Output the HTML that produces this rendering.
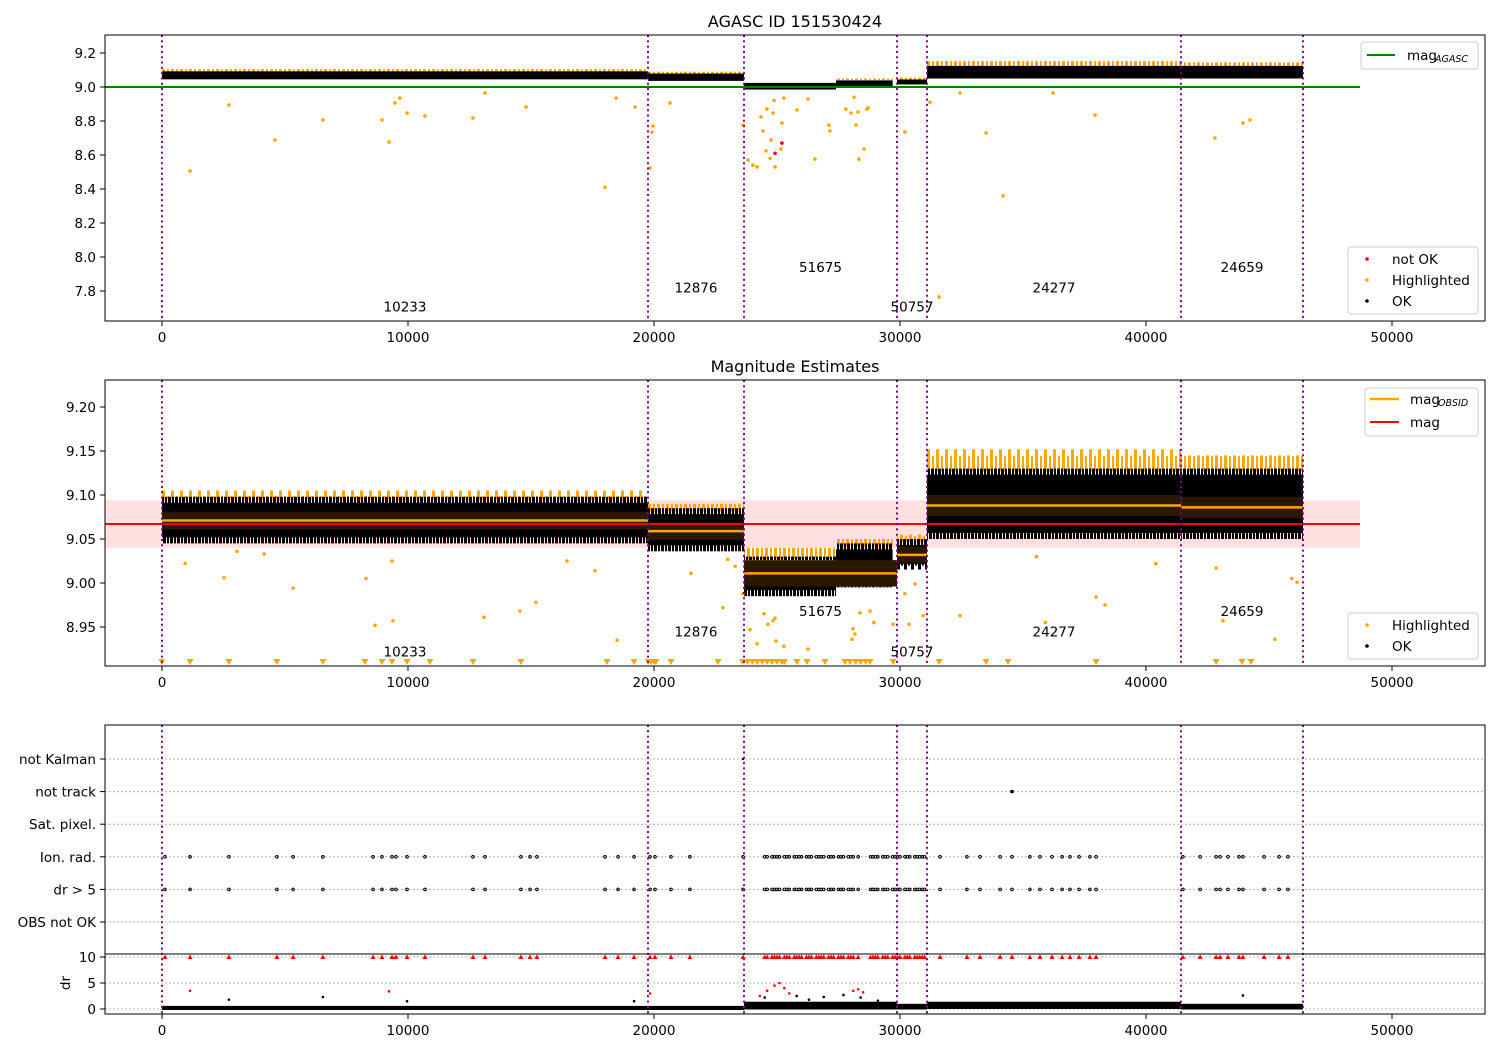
<!DOCTYPE html>
<html><head><meta charset="utf-8"><title>AGASC ID 151530424</title>
<style>
html,body{margin:0;padding:0;background:#fff;}
svg{display:block;font-family:"DejaVu Sans","Liberation Sans",sans-serif;}
</style></head>
<body>
<svg id="fig" width="1500" height="1050" viewBox="0 0 1500 1050" xmlns="http://www.w3.org/2000/svg">
<defs>
<clipPath id="c1"><rect x="105" y="35" width="1380" height="286"/></clipPath>
<clipPath id="c2"><rect x="105" y="380" width="1380" height="286"/></clipPath>
<clipPath id="c4"><rect x="105" y="954" width="1380" height="60"/></clipPath>
<pattern id="hlpat" x="0" y="0" width="9" height="40" patternUnits="userSpaceOnUse">
<rect x="0" y="8" width="3" height="32" fill="orange"/>
<rect x="5" y="16" width="2" height="24" fill="orange"/>
</pattern>
<pattern id="edgepat" x="0" y="0" width="7" height="40" patternUnits="userSpaceOnUse">
<rect x="0" y="2" width="3" height="38" fill="#000"/>
<rect x="4" y="6" width="2" height="34" fill="#000"/>
</pattern>
</defs>
<rect x="0" y="0" width="1500" height="1050" fill="#fff"/>
<g id="p1" clip-path="url(#c1)"></g>
<g id="p2" clip-path="url(#c2)"></g>
<g id="p3"></g>
<g id="p4" clip-path="url(#c4)"></g>
<g id="ax"></g>
</svg>
<script>
// ---- data (x in thousands of time units) ----
const obsids = ["10233","12876","51675","50757","24277","24659"];
const segStart = [0, 19.756, 23.659, 29.878, 31.098, 41.423];
const segEnd = [19.756, 23.659, 29.878, 31.098, 41.423, 46.382];
const segMean = [9.071, 9.059, 9.011, 9.032, 9.088, 9.086];
const segSd = [0.010, 0.010, 0.015, 0.009, 0.012, 0.012];
const labelMag1 = [7.71, 7.82, 7.94, 7.71, 7.82, 7.94];
const labelMag2 = [8.922, 8.945, 8.968, 8.922, 8.945, 8.968];
const cloudStart = [0, 19.756, 23.659, 27.4, 29.878, 31.098, 41.423];
const cloudEnd = [19.756, 23.659, 27.4, 29.7, 31.098, 41.423, 46.382];
const cloudLo = [9.045, 9.036, 8.985, 8.995, 9.015, 9.050, 9.050];
const cloudHi = [9.098, 9.085, 9.030, 9.045, 9.050, 9.130, 9.130];
const cloudHl = [9.105, 9.090, 9.040, 9.050, 9.055, 9.152, 9.145];
const agascMag = 9.0;
const meanMag = 9.067;
const magLo = 9.040, magHi = 9.094;
const hl1X = [1.14,2.72,4.59,6.54,8.94,9.23,9.47,9.67,9.96,10.69,12.64,13.13,14.80,18.01,18.46,19.23,19.84,19.92,19.96,20.65,23.62,23.82,24.02,24.19,24.35,24.43,24.55,24.59,24.72,24.76,24.84,24.88,24.92,25.16,25.20,25.28,25.81,26.26,26.54,27.11,27.15,27.80,28.01,28.13,28.21,28.29,28.33,28.54,28.66,28.70,30.20,31.22,31.59,32.44,33.50,34.19,36.22,37.93,42.80,43.94,44.23];
const hl1M = [8.506,8.894,8.688,8.806,8.806,8.676,8.906,8.935,8.847,8.829,8.818,8.965,8.882,8.41,8.935,8.882,8.523,8.735,8.77,8.906,8.776,8.57,8.54,8.53,8.824,8.741,8.624,8.87,8.58,8.688,8.847,8.92,8.53,8.635,8.788,8.935,8.865,8.93,8.576,8.776,8.741,8.87,8.847,8.94,8.776,8.853,8.576,8.635,8.87,8.876,8.735,8.91,7.765,8.965,8.73,8.36,8.965,8.835,8.70,8.788,8.806];
const red1X = [25.20, 24.92];
const red1M = [8.67, 8.61];
const hl2X = [0.94,2.52,3.05,4.15,5.33,8.29,8.66,9.35,9.39,13.09,14.55,15.20,16.46,17.60,18.50,21.50,22.80,23.00,23.30,23.62,23.90,24.19,24.47,24.84,24.63,24.92,24.96,25.28,26.26,28.05,28.09,28.17,28.37,28.78,28.94,29.72,30.20,30.37,30.61,30.94,32.44,35.91,35.55,37.97,38.33,40.40,42.85,43.13,45.24,45.93,46.14];
const hl2M = [9.022,9.006,9.036,9.033,8.994,9.005,8.952,9.025,8.957,8.961,8.968,8.978,9.025,9.014,8.935,9.011,8.972,9.027,9.019,8.988,8.947,8.931,8.965,8.957,8.953,8.96,8.934,8.928,8.925,8.936,8.948,8.942,8.966,8.968,8.955,8.953,8.988,8.953,8.999,8.963,8.963,8.955,9.030,8.984,8.975,9.022,9.017,8.957,8.936,9.005,9.001];
const low2X = [0,1.14,2.72,4.67,6.54,8.25,8.94,9.35,9.96,10.89,12.64,14.59,18.09,19.19,19.76,19.88,20.0,20.08,20.69,22.6,23.6,23.8,24.0,24.2,24.4,24.6,24.8,25.0,25.2,25.3,25.81,26.22,26.95,27.76,27.97,28.2,28.4,28.6,28.78,29.72,31.59,33.5,34.39,37.97,42.85,43.9,44.27];
const flagCats = ["not Kalman","not track","Sat. pixel.","Ion. rad.","dr > 5","OBS not OK"];
const flagX = [0.12,1.14,2.72,4.67,5.33,6.54,8.58,8.94,9.35,9.51,9.96,10.69,12.64,13.13,14.59,14.96,15.24,18.01,18.54,19.19,19.84,20.04,20.69,21.46,23.62,24.5,24.6,24.8,24.9,25.0,25.1,25.3,25.4,25.5,25.7,25.8,25.9,26.0,26.2,26.3,26.4,26.6,26.7,26.8,26.9,27.1,27.2,27.3,27.5,27.6,27.7,27.9,28.0,28.1,28.3,28.8,28.9,29.0,29.1,29.3,29.4,29.5,29.7,29.8,29.9,30.0,30.2,30.3,30.4,30.6,30.7,30.8,30.9,31.0,31.63,32.72,33.25,34.07,34.55,35.28,35.69,36.18,36.59,36.91,37.28,37.72,37.97,41.50,42.20,42.85,43.01,43.33,43.78,43.94,44.80,45.41,45.77];
const kalmanX = [23.62];
const trackX = [34.55];
const drBandLo = [0.0, 0.0, 0.1, 0.1, 0.2, 0.1];
const drBandHi = [0.6, 0.6, 1.4, 1.0, 1.4, 1.0];
const drRedX = [1.14,9.23,19.84,24.3,24.6,24.9,25.1,25.3,25.5,28.1,28.3,28.5];
const drRed = [3.5,3.4,3.0,2.5,3.5,4.5,5.0,4.0,3.0,3.5,3.8,3.2];
const drBlackX = [2.72,6.54,9.96,19.19,23.9,24.5,25.8,26.3,26.9,27.7,28.4,29.1,43.94];
const drBlack = [1.8,2.3,1.5,1.5,1.0,2.2,2.5,1.8,2.3,2.7,2.2,1.6,2.6];
const xTicks = [0,10000,20000,30000,40000,50000];
const y1Ticks = [9.2,9.0,8.8,8.6,8.4,8.2,8.0,7.8];
const y2Ticks = [9.20,9.15,9.10,9.05,9.00,8.95];
const y4Ticks = [0,5,10];
const vlines = [0,19.756,23.659,29.878,31.098,41.423,46.382];

// ---- scales ----
const X = k => 162 + k*24.6;
const Y1 = m => 87 - (m-9.0)*170;
const Y2 = m => 583 - (m-9.0)*880;
const Y3 = i => 759 + i*32.6;
const Y4 = d => 1009 - d*5.2;
const NS = "http://www.w3.org/2000/svg";
function mk(parent, tag, attrs, text){
  const e = document.createElementNS(NS, tag);
  for (const k in attrs) e.setAttribute(k, attrs[k]);
  if (text !== undefined) e.textContent = text;
  parent.appendChild(e);
  return e;
}
const p1 = document.getElementById('p1'), p2 = document.getElementById('p2'),
      p3 = document.getElementById('p3'), p4 = document.getElementById('p4'),
      ax = document.getElementById('ax');

// ---- panel 1 ----
for (let i=0;i<cloudStart.length;i++){
  const w = X(cloudEnd[i])-X(cloudStart[i]);
  let e = mk(p1,'rect',{x:X(cloudStart[i]),y:Y1(cloudHl[i]),width:w,height:Y1(cloudHi[i])-Y1(cloudHl[i])+2,fill:'url(#hlpat)'});
  
  
  e = mk(p1,'rect',{x:X(cloudStart[i]),y:Y1(cloudHi[i])+1,width:w,height:Y1(cloudLo[i])-Y1(cloudHi[i])-1,fill:'#000'});
  
  
}
for (let i=0;i<hl1X.length;i++){
  const e = mk(p1,'circle',{cx:X(hl1X[i]),cy:Y1(hl1M[i]),r:1.8,fill:'orange'});
  
  
}
for (let i=0;i<red1X.length;i++){
  const e = mk(p1,'circle',{cx:X(red1X[i]),cy:Y1(red1M[i]),r:1.8,fill:'red'});
  
  
}
{
  const e = mk(p1,'line',{x1:X(-2.317),x2:X(48.7),y1:Y1(agascMag),y2:Y1(agascMag),stroke:'green','stroke-width':2});
  
  
}
// ---- panel 2 ----
{
  const e = mk(p2,'rect',{x:X(-2.317),y:Y2(magHi),width:X(48.7)-X(-2.317),height:Y2(magLo)-Y2(magHi),fill:'red','fill-opacity':0.12});
  
  
}
for (let i=0;i<cloudStart.length;i++){
  const w = X(cloudEnd[i])-X(cloudStart[i]);
  const top = Y2(cloudHi[i]), bot = Y2(cloudLo[i]);
  let e = mk(p2,'rect',{x:X(cloudStart[i]),y:Y2(cloudHl[i]),width:w,height:top-Y2(cloudHl[i])+3,fill:'url(#hlpat)'});
  
  
  e = mk(p2,'rect',{x:X(cloudStart[i]),y:top+6,width:w,height:bot-top-12,fill:'#000'});
  
  
  e = mk(p2,'rect',{x:X(cloudStart[i]),y:top,width:w,height:8,fill:'url(#edgepat)'});
  
  
  e = mk(p2,'rect',{x:X(cloudStart[i]),y:bot-8,width:w,height:8,fill:'url(#edgepat)',transform:`rotate(180 ${X(cloudStart[i])+w/2} ${bot-4})`});
  
  
}
for (let i=0;i<segStart.length;i++){
  let e = mk(p2,'rect',{x:X(segStart[i]),y:Y2(segMean[i]+segSd[i]),width:X(segEnd[i])-X(segStart[i]),height:Y2(segMean[i]-segSd[i])-Y2(segMean[i]+segSd[i]),fill:'#2b1800'});
  
  
}
{
  const e = mk(p2,'line',{x1:X(-2.317),x2:X(48.7),y1:Y2(meanMag),y2:Y2(meanMag),stroke:'red','stroke-width':2});
  
  
}
for (let i=0;i<segStart.length;i++){
  const e = mk(p2,'line',{x1:X(segStart[i]),x2:X(segEnd[i]),y1:Y2(segMean[i]),y2:Y2(segMean[i]),stroke:'orange','stroke-width':2.5});
  
  
}
for (let i=0;i<hl2X.length;i++){
  const e = mk(p2,'circle',{cx:X(hl2X[i]),cy:Y2(hl2M[i]),r:1.8,fill:'orange'});
  
  
}
for (let i=0;i<low2X.length;i++){
  const x = X(low2X[i]);
  const e = mk(p2,'path',{d:`M${x-3.5},659 L${x+3.5},659 L${x},665 Z`,fill:'orange'});
  
  
}
// ---- panel 3 flags ----
for (let i=0;i<flagCats.length;i++){
  const e = mk(p3,'line',{x1:105,x2:1485,y1:Y3(i),y2:Y3(i),stroke:'#b0b0b0','stroke-width':1,'stroke-dasharray':'2,2'});
  
  
  const t = mk(ax,'text',{x:96,y:Y3(i)+5,'text-anchor':'end','font-size':13.5},flagCats[i]);
  
  
}
for (const row of [3,4]){
  for (let i=0;i<flagX.length;i++){
    const e = mk(p3,'circle',{cx:X(flagX[i]),cy:Y3(row),r:1.3,fill:'none',stroke:'#000','stroke-width':1});
    
    
  }
}
for (let i=0;i<kalmanX.length;i++){
  const e = mk(p3,'circle',{cx:X(kalmanX[i]),cy:Y3(0),r:1.2,fill:'#000'});
  
  
}
for (let i=0;i<trackX.length;i++){
  const e = mk(p3,'circle',{cx:X(trackX[i]),cy:Y3(1),r:1.8,fill:'#000'});
  
  
}
// ---- panel 4 dr ----
for (const d of [10,5,0]){
  const e = mk(p4,'line',{x1:105,x2:1485,y1:Y4(d),y2:Y4(d),stroke:'#b0b0b0','stroke-width':1,'stroke-dasharray':'2,2'});
  
  
}
for (let i=0;i<segStart.length;i++){
  const e = mk(p4,'rect',{x:X(segStart[i]),y:Y4(drBandHi[i]),width:X(segEnd[i])-X(segStart[i]),height:Y4(drBandLo[i])-Y4(drBandHi[i])+1,fill:'#000'});
  
  
}
for (let i=0;i<drBlackX.length;i++){
  const e = mk(p4,'circle',{cx:X(drBlackX[i]),cy:Y4(drBlack[i]),r:1.3,fill:'#000'});
  
  
}
for (let i=0;i<drRedX.length;i++){
  const e = mk(p4,'circle',{cx:X(drRedX[i]),cy:Y4(drRed[i]),r:1.3,fill:'red'});
  
  
}
for (let i=0;i<flagX.length;i++){
  const x = X(flagX[i]), y = Y4(10);
  const e = mk(p4,'path',{d:`M${x-2.5},${y+2} L${x+2.5},${y+2} L${x},${y-2.5} Z`,fill:'red'});
  
  
}
// ---- obsid vertical lines & labels ----
for (const [top,bot] of [[35,321],[380,666],[725,1014]]){
  for (let i=0;i<vlines.length;i++){
    const e = mk(ax,'line',{x1:X(vlines[i]),x2:X(vlines[i]),y1:top,y2:bot,stroke:'purple','stroke-width':2,'stroke-dasharray':'2,3.3'});
    
    
  }
}
for (let i=0;i<obsids.length;i++){
  const cx = X((segStart[i]+segEnd[i])/2);
  let t = mk(ax,'text',{x:cx,y:Y1(labelMag1[i])+5,'text-anchor':'middle','font-size':13.5},obsids[i]);
  
  
  t = mk(ax,'text',{x:cx,y:Y2(labelMag2[i])+5,'text-anchor':'middle','font-size':13.5},obsids[i]);
  
  
}
// ---- axes frames, ticks ----
const frames = [[105,35,1380,286],[105,380,1380,286],[105,725,1380,229],[105,954,1380,60]];
for (const f of frames){
  const e = mk(ax,'rect',{x:f[0],y:f[1],width:f[2],height:f[3],fill:'none',stroke:'#000','stroke-width':1});
  
  
}
for (const [bot,ly] of [[321,342],[666,687],[1014,1035]]){
  for (const v of xTicks){
    const x = X(v/1000);
    const tl = mk(ax,'line',{x1:x,x2:x,y1:bot,y2:bot+5,stroke:'#000','stroke-width':1});
    
    
    const t = mk(ax,'text',{x:x,y:ly,'text-anchor':'middle','font-size':13.5},String(v));
    
    
  }
}
for (const v of y1Ticks){
  const y = Y1(v);
  const tl = mk(ax,'line',{x1:100,x2:105,y1:y,y2:y,stroke:'#000'});
  
  
  const t = mk(ax,'text',{x:96,y:y+5,'text-anchor':'end','font-size':13.5},v.toFixed(1));
  
  
}
for (const v of y2Ticks){
  const y = Y2(v);
  const tl = mk(ax,'line',{x1:100,x2:105,y1:y,y2:y,stroke:'#000'});
  
  
  const t = mk(ax,'text',{x:96,y:y+5,'text-anchor':'end','font-size':13.5},v.toFixed(2));
  
  
}
for (let i=0;i<flagCats.length;i++){
  const tl = mk(ax,'line',{x1:100,x2:105,y1:Y3(i),y2:Y3(i),stroke:'#000'});
  
  
}
for (const v of y4Ticks){
  const y = Y4(v);
  const tl = mk(ax,'line',{x1:100,x2:105,y1:y,y2:y,stroke:'#000'});
  
  
  const t = mk(ax,'text',{x:96,y:y+5,'text-anchor':'end','font-size':13.5},String(v));
  
  
}
</script>
<script>
(function(){
const svg = document.getElementById('fig');
const NS = "http://www.w3.org/2000/svg";
function add(tag, attrs, text){
  const e = document.createElementNS(NS, tag);
  for (const k in attrs) e.setAttribute(k, attrs[k]);
  if (text !== undefined) e.textContent = text;
  svg.appendChild(e);
  return e;
}
let e;
e = add('text',{x:795,y:27,'text-anchor':'middle','font-size':16},'AGASC ID 151530424');


e = add('text',{x:795,y:372,'text-anchor':'middle','font-size':16},'Magnitude Estimates');


e = add('text',{x:0,y:0,'text-anchor':'middle','font-size':13.5,transform:'translate(70,983) rotate(-90)'},'dr');



e = add('rect',{x:1361,y:42,width:117,height:27,rx:3,fill:'#fff',stroke:'#ccc'});


e = add('line',{x1:1367,x2:1395,y1:55,y2:55,stroke:'green','stroke-width':2});


e = add('text',{x:1407,y:60,'font-size':13.5},'mag');


e = add('text',{x:1435,y:62,'font-size':9.5,'font-style':'italic'},'AGASC');


e = add('rect',{x:1348,y:247,width:130,height:67,rx:3,fill:'#fff',stroke:'#ccc'});


const lab1 = ['not OK','Highlighted','OK'], col1 = ['red','orange','#000'];
for (let i=0;i<3;i++){
  e = add('circle',{cx:1367,cy:259+i*21,r:1.8,fill:col1[i]});
  
  
  e = add('text',{x:1392,y:264+i*21,'font-size':13.5},lab1[i]);
  
  
}
e = add('rect',{x:1365,y:388,width:113,height:48,rx:3,fill:'#fff',stroke:'#ccc'});


e = add('line',{x1:1370,x2:1399,y1:399,y2:399,stroke:'orange','stroke-width':2.5});


e = add('text',{x:1410,y:404,'font-size':13.5},'mag');


e = add('text',{x:1438,y:406,'font-size':9.5,'font-style':'italic'},'OBSID');


e = add('line',{x1:1370,x2:1399,y1:422,y2:422,stroke:'red','stroke-width':2});


e = add('text',{x:1410,y:427,'font-size':13.5},'mag');


e = add('rect',{x:1348,y:613,width:130,height:46,rx:3,fill:'#fff',stroke:'#ccc'});


const lab2 = ['Highlighted','OK'], col2 = ['orange','#000'];
for (let i=0;i<2;i++){
  e = add('circle',{cx:1367,cy:625+i*21,r:1.8,fill:col2[i]});
  
  
  e = add('text',{x:1392,y:630+i*21,'font-size':13.5},lab2[i]);
  
  
}
})();
</script>
</body></html>
